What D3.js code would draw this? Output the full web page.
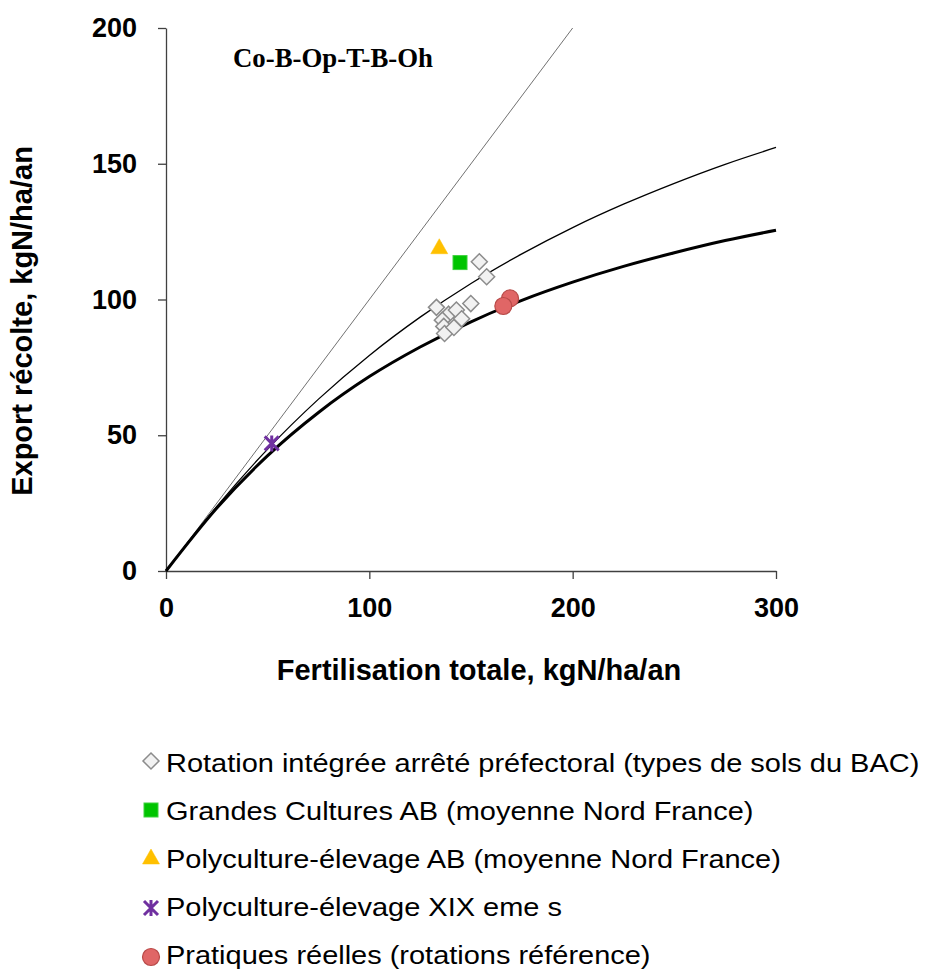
<!DOCTYPE html>
<html>
<head>
<meta charset="utf-8">
<script src="https://cdn.jsdelivr.net/npm/d3@7"></script>
<style>
  html, body { margin: 0; padding: 0; background: #fff; }
  svg { display: block; }
</style>
</head>
<body>
<svg id="chart" width="925" height="970"></svg>
<script>
// ---------- DATA ----------
const chartTitle = "Co-B-Op-T-B-Oh";
const xAxisTitle = "Fertilisation totale, kgN/ha/an";
const yAxisTitle = "Export récolte, kgN/ha/an";
const xTicks = [0, 100, 200, 300];
const yTicks = [0, 50, 100, 150, 200];

// curves (at regular fertilisation steps)
const curveFert   = [0, 25, 50, 75, 100, 125, 150, 175, 200, 225, 250, 275, 300];
const curveThick  = [0, 23.2, 42.5, 58.4, 71.6, 82.5, 91.8, 99.7, 106.4, 112.2, 117.2, 121.7, 125.5];
const curveThin   = [0, 23.8, 44.9, 63.3, 79.4, 93.5, 105.9, 116.8, 126.5, 135.1, 142.8, 149.8, 156.0];
const lineOneFert = [0, 200];
const lineOneExp  = [0, 200];

// scatter series
const rotationX = [154.1, 157.7, 133.0, 149.9, 139.0, 142.8, 145.4, 135.9, 136.6, 137.0, 141.6];
const rotationY = [113.9, 108.4, 97.1, 98.5, 94.6, 96.1, 92.9, 92.4, 90.1, 87.5, 89.7];
const grandesX = [144.6];
const grandesY = [113.6];
const polyABX = [134.4];
const polyABY = [118.7];
const polyXIXX = [52.0];
const polyXIXY = [47.0];
const pratiquesX = [169.2, 165.9];
const pratiquesY = [100.4, 97.6];

const legendLabels = [
  "Rotation intégrée arrêté préfectoral (types de sols du BAC)",
  "Grandes Cultures AB (moyenne Nord France)",
  "Polyculture-élevage AB (moyenne Nord France)",
  "Polyculture-élevage XIX eme s",
  "Pratiques réelles (rotations référence)"
];

// ---------- DRAWING ----------
const svg = d3.select("#chart");
const x = d3.scaleLinear().domain([0, 300]).range([166, 776]);
const y = d3.scaleLinear().domain([0, 200]).range([571, 28]);

const sans = "'Liberation Sans', Arial, Helvetica, sans-serif";
const serif = "'Liberation Serif', 'Times New Roman', serif";
const axisColor = "#404040";

// axes
const yAxis = d3.axisLeft(y).tickValues(yTicks).tickSize(8).tickSizeOuter(0).tickPadding(21).tickFormat(d3.format("d"));
const xAxis = d3.axisBottom(x).tickValues(xTicks).tickSize(8).tickSizeOuter(0).tickPadding(19).tickFormat(d3.format("d"));

const gy = svg.append("g").attr("transform", `translate(${x(0)},0)`).call(yAxis);
const gx = svg.append("g").attr("transform", `translate(0,${y(0)})`).call(xAxis);
[gx, gy].forEach(g => {
  g.select(".domain").attr("stroke", axisColor).attr("stroke-width", 1.3);
  g.selectAll(".tick line").attr("stroke", axisColor).attr("stroke-width", 1.3);
  g.selectAll(".tick text")
    .attr("fill", "#000")
    .style("font-family", sans)
    .style("font-weight", "bold")
    .style("font-size", "27px");
});

// axis titles
svg.append("text")
  .attr("x", 479).attr("y", 680)
  .attr("text-anchor", "middle")
  .style("font-family", sans).style("font-weight", "bold").style("font-size", "29px")
  .text(xAxisTitle);

svg.append("text")
  .attr("transform", "translate(32,321) rotate(-90)")
  .attr("text-anchor", "middle")
  .style("font-family", sans).style("font-weight", "bold").style("font-size", "29px")
  .text(yAxisTitle);

// chart title
svg.append("text")
  .attr("x", 233).attr("y", 67)
  .style("font-family", serif).style("font-weight", "bold").style("font-size", "26.8px")
  .text(chartTitle);

// lines
const line = d3.line().x(d => x(d[0])).y(d => y(d[1]));
const smooth = d3.line().x(d => x(d[0])).y(d => y(d[1])).curve(d3.curveMonotoneX);

svg.append("path")
  .datum(d3.zip(lineOneFert, lineOneExp))
  .attr("d", line).attr("fill", "none").attr("stroke", "#333").attr("stroke-width", 0.7);

svg.append("path")
  .datum(d3.zip(curveFert, curveThin))
  .attr("d", smooth).attr("fill", "none").attr("stroke", "#000").attr("stroke-width", 1.3);

svg.append("path")
  .datum(d3.zip(curveFert, curveThick))
  .attr("d", smooth).attr("fill", "none").attr("stroke", "#000").attr("stroke-width", 3);

// marker drawers
function drawDiamond(g, cx, cy) {
  const r = 8;
  g.append("path")
    .attr("d", `M${cx},${cy - r}L${cx + r},${cy}L${cx},${cy + r}L${cx - r},${cy}Z`)
    .attr("fill", "#f2f2f2").attr("stroke", "#8c8c8c").attr("stroke-width", 1.5);
}
function drawSquare(g, cx, cy) {
  const s = 14;
  g.append("rect")
    .attr("x", cx - s / 2).attr("y", cy - s / 2).attr("width", s).attr("height", s)
    .attr("fill", "#00c400").attr("stroke", "#3fd13f").attr("stroke-width", 1);
}
function drawTriangle(g, cx, cy) {
  const w = 17, h = 15;
  g.append("path")
    .attr("d", `M${cx},${cy - h * 2 / 3}L${cx + w / 2},${cy + h / 3}L${cx - w / 2},${cy + h / 3}Z`)
    .attr("fill", "#ffc000").attr("stroke", "#ffc000").attr("stroke-width", 0.5);
}
function drawStar(g, cx, cy) {
  const r = 7;
  g.append("path")
    .attr("d", `M${cx - r},${cy - r}L${cx + r},${cy + r}M${cx - r},${cy + r}L${cx + r},${cy - r}M${cx},${cy - r - 1}L${cx},${cy + r + 1}`)
    .attr("fill", "none").attr("stroke", "#7030a0").attr("stroke-width", 3);
}
function drawCircle(g, cx, cy) {
  g.append("circle")
    .attr("cx", cx).attr("cy", cy).attr("r", 8.5)
    .attr("fill", "#e06666").attr("stroke", "#b84a48").attr("stroke-width", 1.2);
}

const pts = svg.append("g");
d3.zip(rotationX, rotationY).forEach(d => drawDiamond(pts, x(d[0]), y(d[1])));
d3.zip(grandesX, grandesY).forEach(d => drawSquare(pts, x(d[0]), y(d[1])));
d3.zip(polyABX, polyABY).forEach(d => drawTriangle(pts, x(d[0]), y(d[1])));
d3.zip(polyXIXX, polyXIXY).forEach(d => drawStar(pts, x(d[0]), y(d[1])));
d3.zip(pratiquesX, pratiquesY).forEach(d => drawCircle(pts, x(d[0]), y(d[1])));

// legend
const drawers = [drawDiamond, drawSquare, drawTriangle, drawStar, drawCircle];
const legend = svg.append("g");
const markerY = d3.scalePoint().domain(d3.range(legendLabels.length)).range([761, 957]);
const textY = d3.scalePoint().domain(d3.range(legendLabels.length)).range([771.5, 963.5]);
legendLabels.forEach((lab, i) => {
  drawers[i](legend, 151, markerY(i));
  legend.append("text")
    .attr("transform", `translate(166,${textY(i)}) scale(1.114,1)`)
    .style("font-family", sans).style("font-size", "26px")
    .attr("fill", "#000")
    .text(lab);
});
</script>
</body>
</html>
